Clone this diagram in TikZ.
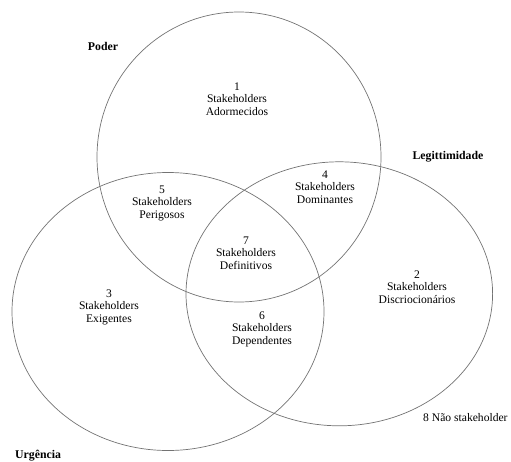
\documentclass[tikz,border=0pt]{standalone}
\usepackage{fontspec}
\setmainfont{Liberation Serif}
\begin{document}
\begin{tikzpicture}[x=1pt,y=-1pt,
  ring/.style={draw=black!55,line width=0.7pt},
  region/.style={align=center,font=\fontsize{11.6}{12.5}\selectfont,inner sep=0pt},
  setlabel/.style={font=\fontsize{11.8}{13}\selectfont\bfseries,inner sep=0pt}]
\useasboundingbox (0,0) rectangle (511,461);
% sets
\draw[ring] (239,157) ellipse [x radius=142, y radius=145];
\draw[ring] (168,311.5) ellipse [x radius=156, y radius=139];
\draw[ring] (339.3,293.8) ellipse [x radius=153.3, y radius=132];
% set labels
\node[setlabel] (poder) at (103,46) {Poder};
\node[setlabel] (leg) at (448,157) {Legittimidade};
\node[setlabel,anchor=west] (urg) at (15,456) {Urgência};
% regions
\node[region] (r1) at (237,99) {1\\Stakeholders\\Adormecidos};
\node[region] (r4) at (325,187) {4\\Stakeholders\\Dominantes};
\node[region] (r5) at (162,203) {5\\Stakeholders\\Perigosos};
\node[region] (r7) at (246,253) {7\\Stakeholders\\Definitivos};
\node[region] (r3) at (109,307) {3\\Stakeholders\\Exigentes};
\node[region] (r2) at (417,287) {2\\Stakeholders\\Discriocionários};
\node[region] (r6) at (262,329) {6\\Stakeholders\\Dependentes};
\node[region,anchor=west] (r8) at (423,418) {8 Não stakeholder};
\end{tikzpicture}
\end{document}
